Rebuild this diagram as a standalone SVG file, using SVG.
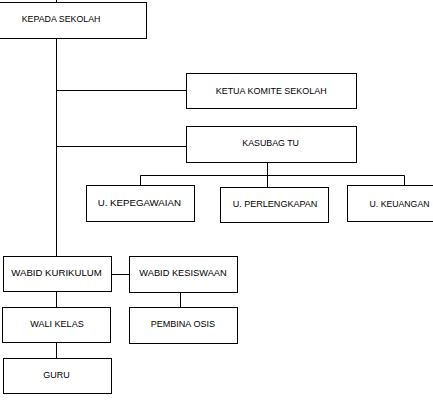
<svg xmlns="http://www.w3.org/2000/svg" width="433" height="402" viewBox="0 0 433 402">
<style>
.b{fill:#fff;stroke:#000;stroke-width:1}
.c{fill:none;stroke:#000;stroke-width:1}
text{font-family:"Liberation Sans",Arial,sans-serif;font-size:9.5px;fill:#000}
</style>
<rect width="433" height="402" fill="#fff"/>
<g id="connectors">
<path class="c" d="M56.5,0V256.5M56.5,90.5H186.5M56.5,146.5H186.5M267.5,162.5V187.5M140.5,175.5H404.5M140.5,175.5V185.5M404.5,175.5V185.5M111.5,274.5H129.5M56.5,291.5V307.5M180.5,292.5V307.5M56.5,342.5V358.5"/>
</g>
<g id="kepada"><rect class="b" x="-1.5" y="2.5" width="148" height="36"/><text x="21.7" y="22" textLength="78.7" lengthAdjust="spacingAndGlyphs">KEPADA SEKOLAH</text></g>
<g id="ketua"><rect class="b" x="186.5" y="73.5" width="170" height="35"/><text x="215.7" y="93.5" textLength="111" lengthAdjust="spacingAndGlyphs">KETUA KOMITE SEKOLAH</text></g>
<g id="kasubag"><rect class="b" x="186.5" y="126.5" width="170" height="36"/><text x="242.3" y="146" textLength="56.7" lengthAdjust="spacingAndGlyphs">KASUBAG TU</text></g>
<g id="kepegawaian"><rect class="b" x="86.5" y="185.5" width="108" height="36"/><text x="97.7" y="205.7" textLength="83.3" lengthAdjust="spacingAndGlyphs">U. KEPEGAWAIAN</text></g>
<g id="perlengkapan"><rect class="b" x="220.5" y="187.5" width="108" height="35"/><text x="232.7" y="207.3" textLength="84.7" lengthAdjust="spacingAndGlyphs">U. PERLENGKAPAN</text></g>
<g id="keuangan"><rect class="b" x="347.5" y="185.5" width="108" height="36"/><text x="369.5" y="207.3" textLength="60" lengthAdjust="spacingAndGlyphs">U. KEUANGAN</text></g>
<g id="kurikulum"><rect class="b" x="3.5" y="256.5" width="108" height="35"/><text x="11.3" y="276" textLength="90.4" lengthAdjust="spacingAndGlyphs">WABID KURIKULUM</text></g>
<g id="kesiswaan"><rect class="b" x="129.5" y="256.5" width="108" height="36"/><text x="139.3" y="276" textLength="87.4" lengthAdjust="spacingAndGlyphs">WABID KESISWAAN</text></g>
<g id="walikelas"><rect class="b" x="2.5" y="307.5" width="108" height="35"/><text x="30.3" y="326.7" textLength="53.4" lengthAdjust="spacingAndGlyphs">WALI KELAS</text></g>
<g id="pembina"><rect class="b" x="129.5" y="307.5" width="108" height="36"/><text x="150.7" y="326.7" textLength="64.3" lengthAdjust="spacingAndGlyphs">PEMBINA OSIS</text></g>
<g id="guru"><rect class="b" x="3.5" y="358.5" width="108" height="35"/><text x="43.3" y="378" textLength="26.4" lengthAdjust="spacingAndGlyphs">GURU</text></g>
</svg>
